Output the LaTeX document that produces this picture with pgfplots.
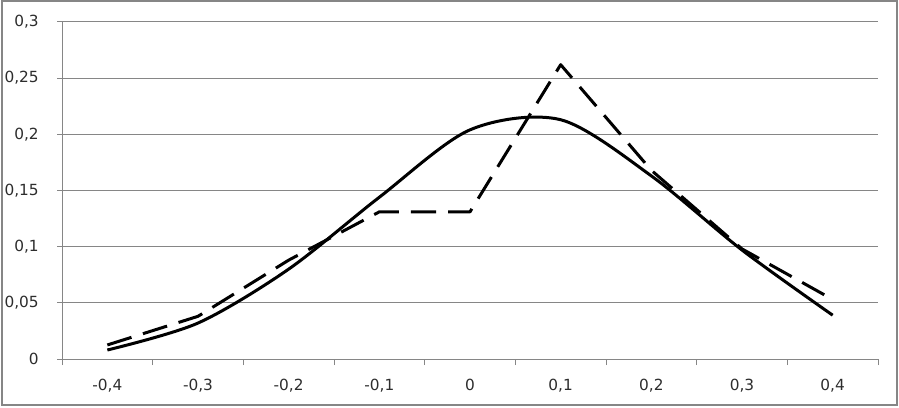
\documentclass[border=0pt]{standalone}
\usepackage{pgfplots}
\usepackage{pgfplotstable}
\pgfplotsset{compat=1.18}
\usepackage{fontspec}
\setmainfont{DejaVu Sans}
\definecolor{gridgray}{RGB}{134,134,134}
\definecolor{labelgray}{RGB}{45,45,45}

% categories -0.4 ... 0.4 plotted at 0..8
\pgfplotstableread{
x solid dashed
0 0.008 0.0125
1 0.032 0.038
2 0.080 0.088
3 0.144 0.131
4 0.204 0.131
5 0.213 0.262
6 0.163 0.168
7 0.097 0.098
8 0.039 0.053
}\datatable

\begin{document}
\begin{tikzpicture}[x=1pt,y=1pt]
\useasboundingbox (0,0) rectangle (674.25,305.25);
\draw[gridgray, line width=1.5pt] (1.5,1.5) rectangle (672.75,304.5);
\begin{axis}[
    at={(46.5pt,36pt)}, anchor=south west,
    scale only axis, width=612pt, height=252.75pt,
    xmin=-0.5, xmax=8.5, ymin=0, ymax=0.3,
    axis x line*=bottom, axis y line*=left,
    axis line style={gridgray, line width=0.75pt},
    tick align=outside,
    xtick={0,...,8},
    xticklabels={{-0,4},{-0,3},{-0,2},{-0,1},0,{0,1},{0,2},{0,3},{0,4}},
    minor xtick={-0.5,0.5,...,8.5},
    major x tick style={draw=none},
    minor x tick style={gridgray, line width=0.75pt},
    minor tick length=4.5pt,
    ytick={0,0.05,0.1,0.15,0.2,0.25,0.3},
    yticklabels={0,{0,05},{0,1},{0,15},{0,2},{0,25},{0,3}},
    major y tick style={gridgray, line width=0.75pt},
    major tick length=3.75pt,
    ymajorgrids, grid style={gridgray, line width=0.75pt},
    tick label style={font=\fontsize{11.5}{14}\selectfont, text=labelgray},
    xticklabel style={inner sep=0pt, anchor=north, yshift=-11pt},
    yticklabel style={inner sep=0pt, anchor=east, xshift=-13.5pt},
    clip=false,
]
\addplot[black, line width=2.25pt, smooth, line join=round] table[x=x, y=solid] {\datatable};
\addplot[black, line width=2.25pt, line join=round, dash pattern=on 19pt off 9pt] table[x=x, y=dashed] {\datatable};
\end{axis}
\end{tikzpicture}
\end{document}
